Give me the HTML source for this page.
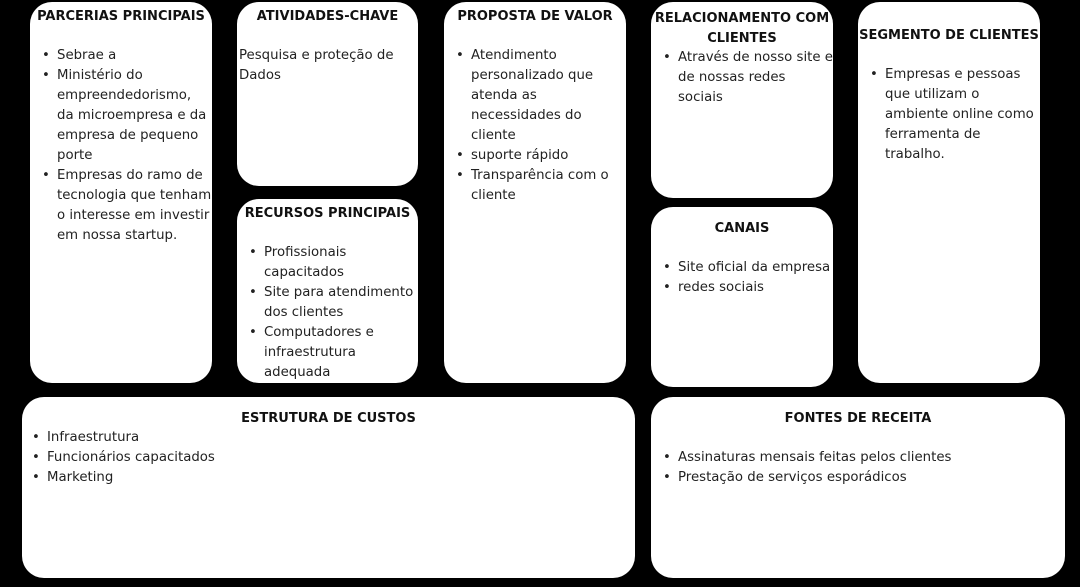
<!DOCTYPE html>
<html><head><meta charset="utf-8"><style>
body{margin:0;width:1080px;height:587px;background:#000;position:relative;overflow:hidden;font-family:"DejaVu Sans","Liberation Sans",sans-serif;font-size:13.3px;color:#222}
.b{position:absolute;background:#fff;border-radius:22px}
.t{position:absolute;left:-10px;right:-10px;text-align:center;font-weight:bold;font-size:13px;line-height:20px;color:#111;white-space:nowrap}
ul{position:absolute;margin:0;padding:0;list-style:none;line-height:20px;white-space:nowrap}
li{position:relative;padding-left:17px}
li:before{content:"•";position:absolute;left:2px}
.p{position:absolute;line-height:20px;white-space:nowrap}
</style></head><body>
<div class="b" style="left:30px;top:2px;width:182px;height:381px">
 <div class="t" style="top:5px">PARCERIAS PRINCIPAIS</div>
 <ul style="left:10px;top:44px"><li>Sebrae a</li><li>Ministério do<br>empreendedorismo,<br>da microempresa e da<br>empresa de pequeno<br>porte</li><li>Empresas do ramo de<br>tecnologia que tenham<br>o interesse em investir<br>em nossa startup.</li></ul>
</div>
<div class="b" style="left:237px;top:2px;width:181px;height:184px">
 <div class="t" style="top:5px">ATIVIDADES-CHAVE</div>
 <div class="p" style="left:2px;top:44px">Pesquisa e proteção de<br>Dados</div>
</div>
<div class="b" style="left:237px;top:199px;width:181px;height:184px">
 <div class="t" style="top:5px">RECURSOS PRINCIPAIS</div>
 <ul style="left:10px;top:44px"><li>Profissionais<br>capacitados</li><li>Site para atendimento<br>dos clientes</li><li>Computadores e<br>infraestrutura<br>adequada</li></ul>
</div>
<div class="b" style="left:444px;top:2px;width:182px;height:381px">
 <div class="t" style="top:5px">PROPOSTA DE VALOR</div>
 <ul style="left:10px;top:44px"><li>Atendimento<br>personalizado que<br>atenda as<br>necessidades do<br>cliente</li><li>suporte rápido</li><li>Transparência com o<br>cliente</li></ul>
</div>
<div class="b" style="left:651px;top:2px;width:182px;height:196px">
 <div class="t" style="top:7px">RELACIONAMENTO COM<br>CLIENTES</div>
 <ul style="left:10px;top:46px"><li>Através de nosso site e<br>de nossas redes<br>sociais</li></ul>
</div>
<div class="b" style="left:651px;top:207px;width:182px;height:180px">
 <div class="t" style="top:12px">CANAIS</div>
 <ul style="left:10px;top:51px"><li>Site oficial da empresa</li><li>redes sociais</li></ul>
</div>
<div class="b" style="left:858px;top:2px;width:182px;height:381px">
 <div class="t" style="top:24px">SEGMENTO DE CLIENTES</div>
 <ul style="left:10px;top:63px"><li>Empresas e pessoas<br>que utilizam o<br>ambiente online como<br>ferramenta de<br>trabalho.</li></ul>
</div>
<div class="b" style="left:22px;top:397px;width:613px;height:181px">
 <div class="t" style="top:12px">ESTRUTURA DE CUSTOS</div>
 <ul style="left:8px;top:31px"><li>Infraestrutura</li><li>Funcionários capacitados</li><li>Marketing</li></ul>
</div>
<div class="b" style="left:651px;top:397px;width:414px;height:181px">
 <div class="t" style="top:12px">FONTES DE RECEITA</div>
 <ul style="left:10px;top:51px"><li>Assinaturas mensais feitas pelos clientes</li><li>Prestação de serviços esporádicos</li></ul>
</div>
</body></html>
